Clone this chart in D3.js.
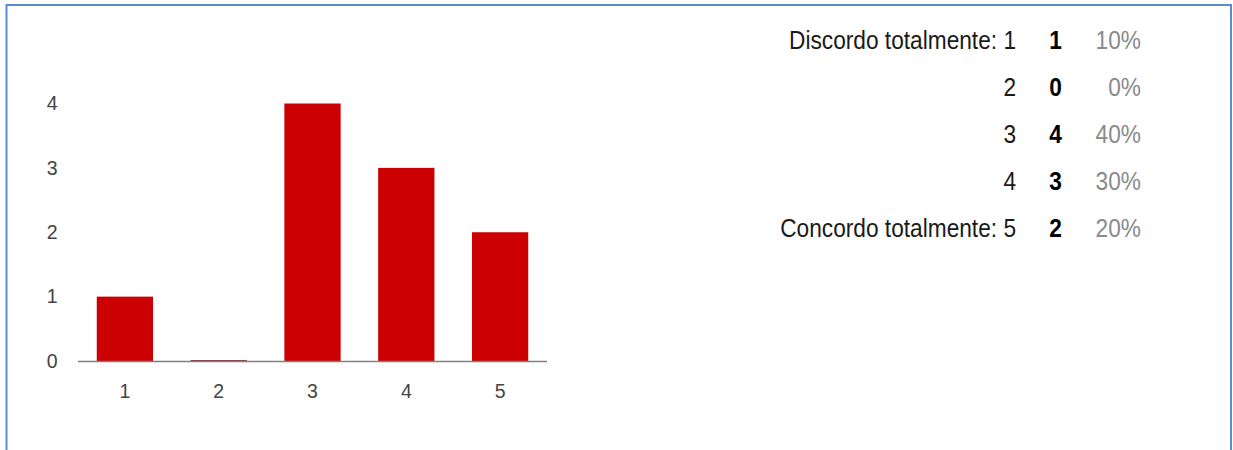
<!DOCTYPE html>
<html>
<head>
<meta charset="utf-8">
<script src="https://cdn.jsdelivr.net/npm/d3@7/dist/d3.min.js"></script>
<style>
  html, body { margin: 0; padding: 0; background: #fff; }
  svg { display: block; font-family: Arial, "Liberation Sans", sans-serif; }
</style>
</head>
<body>
<svg id="chart" width="1233" height="450"></svg>
<script>
// Survey answers on a 1–5 scale
const categories = ["1", "2", "3", "4", "5"];
const counts = [1, 0, 4, 3, 2];
const yTicks = [0, 1, 2, 3, 4];
const scaleLabels = ["Discordo totalmente: 1", "2", "3", "4", "Concordo totalmente: 5"];
const percents = ["10%", "0%", "40%", "30%", "20%"];

const svg = d3.select("#chart");

// Frame around the response block
svg.append("path")
  .attr("d", "M6.5,460 V5 H1231 V460")
  .attr("fill", "none")
  .attr("stroke", "#5b8bd1")
  .attr("stroke-width", 2);

// Column chart
const x = d3.scaleBand()
  .domain(categories)
  .range([78, 547])
  .paddingInner(0.4)
  .paddingOuter(0.2);

const y = d3.scaleLinear()
  .domain([0, 4])
  .range([361, 103.5]);

const bars = svg.append("g");
bars.selectAll("rect")
  .data(categories.map((c, i) => ({ c, v: counts[i] })))
  .join("rect")
  .attr("x", d => x(d.c))
  .attr("y", d => y(d.v) - (d.v === 0 ? 1 : 0))
  .attr("width", x.bandwidth())
  .attr("height", d => Math.max(1, y(0) - y(d.v)))
  .attr("fill", d => d.v === 0 ? "#8a3a3a" : "#cc0000");

// Baseline
svg.append("line")
  .attr("x1", 78).attr("x2", 547)
  .attr("y1", 361.5).attr("y2", 361.5)
  .attr("stroke", "#808080")
  .attr("stroke-width", 1.5);

// Value axis labels
const yAxis = d3.axisLeft(y).tickValues(yTicks).tickFormat(d3.format("d")).tickSize(0).tickPadding(0);
const gy = svg.append("g").attr("transform", "translate(57.5,0)").call(yAxis);
gy.select(".domain").remove();
gy.selectAll("text")
  .attr("font-size", 19.5)
  .attr("fill", "#444")
  .attr("font-family", "Arial, 'Liberation Sans', sans-serif");

// Category axis labels
const xAxis = d3.axisBottom(x).tickSize(0).tickPadding(0);
const gx = svg.append("g").attr("transform", "translate(0,384)").call(xAxis);
gx.select(".domain").remove();
gx.selectAll("text")
  .attr("font-size", 19.5)
  .attr("fill", "#444")
  .attr("font-family", "Arial, 'Liberation Sans', sans-serif");

// Summary table (condensed type)
const rowY = d3.scalePoint().domain(categories).range([48.5, 237]);
const table = svg.append("g").attr("font-size", 25.5);
const sx = 0.89;

function place(sel, xPos) {
  sel.attr("transform", (d, i) => `translate(${xPos},${rowY(categories[i])}) scale(${sx},1)`);
}

table.selectAll("text.lbl")
  .data(scaleLabels)
  .join("text")
  .attr("class", "lbl")
  .attr("text-anchor", "end")
  .attr("fill", "#1a1a1a")
  .call(place, 1016)
  .text(d => d);

table.selectAll("text.cnt")
  .data(counts)
  .join("text")
  .attr("class", "cnt")
  .attr("text-anchor", "middle")
  .attr("font-weight", "bold")
  .attr("fill", "#000")
  .call(place, 1055.5)
  .text(d => d);

table.selectAll("text.pct")
  .data(percents)
  .join("text")
  .attr("class", "pct")
  .attr("text-anchor", "end")
  .attr("fill", "#8a8a8a")
  .call(place, 1141)
  .text(d => d);
</script>
</body>
</html>
